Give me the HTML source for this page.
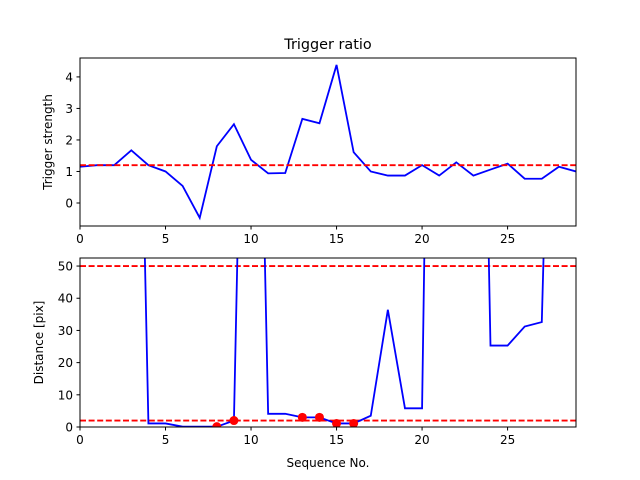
<!DOCTYPE html>
<html><head><meta charset="utf-8"><style>body{margin:0;background:#fff}svg{display:block;font-family:"DejaVu Sans","Liberation Sans",sans-serif}</style></head>
<body>
<svg id="c" width="640" height="480" viewBox="0 0 640 480" xmlns="http://www.w3.org/2000/svg">
<defs>
<clipPath id="c1"><rect x="80" y="58" width="496" height="168"/></clipPath>
<clipPath id="c2"><rect x="80" y="258" width="496" height="169"/></clipPath>
</defs>
<rect width="640" height="480" fill="#fff"/>
<g id="top"></g>
<g id="bot"></g>
</svg>
<script>
const seq = Array.from({length:30},(_,i)=>i);
const triggerStrength = [1.15,1.2,1.2,1.67,1.2,1.0,0.54,-0.47,1.8,2.5,1.37,0.94,0.95,2.67,2.53,4.38,1.61,1.0,0.87,0.87,1.2,0.87,1.29,0.87,1.06,1.25,0.77,0.77,1.15,1.0];
const triggerThreshold = [1.2];
const distance = [250,250,250,250,1.1,1.1,0.1,0.1,0.1,2.0,254,4.1,4.1,3.0,3.0,1.1,1.1,3.5,36.4,5.8,5.8,365,300,300,25.3,25.3,31.2,32.6,230,250];
const distThresholds = [50,2];
const markedIdx = [8,9,13,14,15,16];
const xTicks = [0,5,10,15,20,25];
const topYTicks = [0,1,2,3,4];
const botYTicks = [0,10,20,30,40,50];

const NS="http://www.w3.org/2000/svg";
function mk(p,t,a){const e=document.createElementNS(NS,t);for(const k in a)e.setAttribute(k,a[k]);p.appendChild(e);return e;}
const X0=80,X1=576,xMin=0,xMax=29;
const xs=v=>X0+(v-xMin)/(xMax-xMin)*(X1-X0);

function axes(g,top,bot,yMin,yMax){
  const ys=v=>bot-(v-yMin)/(yMax-yMin)*(bot-top);
  const bg=mk(g,'rect',{x:X0,y:top,width:X1-X0,height:bot-top,fill:'#fff'});
  
  
  return ys;
}
function frame(g,top,bot,ys,yTicks,ylabel,name){
  const f=mk(g,'rect',{x:X0,y:top,width:X1-X0,height:bot-top,fill:'none',stroke:'#000','stroke-width':1});
  
  
  xTicks.forEach(t=>{
    const x=xs(t);
    mk(g,'line',{x1:x,x2:x,y1:bot,y2:bot+3.5,stroke:'#000'});
    const tx=mk(g,'text',{x:x,y:bot+17,'font-size':12,'text-anchor':'middle'});tx.textContent=t;
    
    
  });
  yTicks.forEach(t=>{
    const y=ys(t);
    mk(g,'line',{x1:X0-3.5,x2:X0,y1:y,y2:y,stroke:'#000'});
    const tx=mk(g,'text',{x:X0-7,y:y+4.5,'font-size':12,'text-anchor':'end'});tx.textContent=t;
    
    
  });
  const yl=mk(g,'text',{x:0,y:0,'font-size':12,'text-anchor':'middle',transform:`translate(${name==='top'?52:43},${(top+bot)/2}) rotate(-90)`});
  yl.textContent=ylabel;
  
  
}
function xlabel(g,y){
  const t=mk(g,'text',{x:(X0+X1)/2,y:y,'font-size':12,'text-anchor':'middle'});t.textContent='Sequence No.';
  
  
}

// top
const gt=document.getElementById('top');
const ysT=axes(gt,58,226,-0.73,4.6);
const tl=mk(gt,'text',{x:328,y:49,'font-size':14.4,'text-anchor':'middle'});tl.textContent='Trigger ratio';


const pt=mk(gt,'g',{'clip-path':'url(#c1)'});
const l1=mk(pt,'polyline',{points:seq.map((s,i)=>xs(s)+','+ysT(triggerStrength[i])).join(' '),fill:'none',stroke:'#0000ff','stroke-width':1.8});


triggerThreshold.forEach(v=>{
  const h=mk(pt,'line',{x1:X0,x2:X1,y1:ysT(v),y2:ysT(v),stroke:'#ff0000','stroke-width':1.8,'stroke-dasharray':'6,2.6'});
  
  
});
frame(gt,58,226,ysT,topYTicks,'Trigger strength','top');
xlabel(gt,267);

// bottom
const gb=document.getElementById('bot');
const ysB=axes(gb,258,427,0,52.5);
const pb=mk(gb,'g',{'clip-path':'url(#c2)'});
distThresholds.forEach(v=>{
  const h=mk(pb,'line',{x1:X0,x2:X1,y1:ysB(v),y2:ysB(v),stroke:'#ff0000','stroke-width':1.8,'stroke-dasharray':'6,2.6'});
  
  
});
const l2=mk(pb,'polyline',{points:seq.map((s,i)=>xs(s)+','+ysB(distance[i])).join(' '),fill:'none',stroke:'#0000ff','stroke-width':1.8});


markedIdx.forEach(i=>{
  const c=mk(pb,'circle',{cx:xs(seq[i]),cy:ysB(distance[i]),r:4.5,fill:'#ff0000'});
  
  
});
frame(gb,258,427,ysB,botYTicks,'Distance [pix]','bot');
xlabel(gb,467);
</script>
</body></html>
